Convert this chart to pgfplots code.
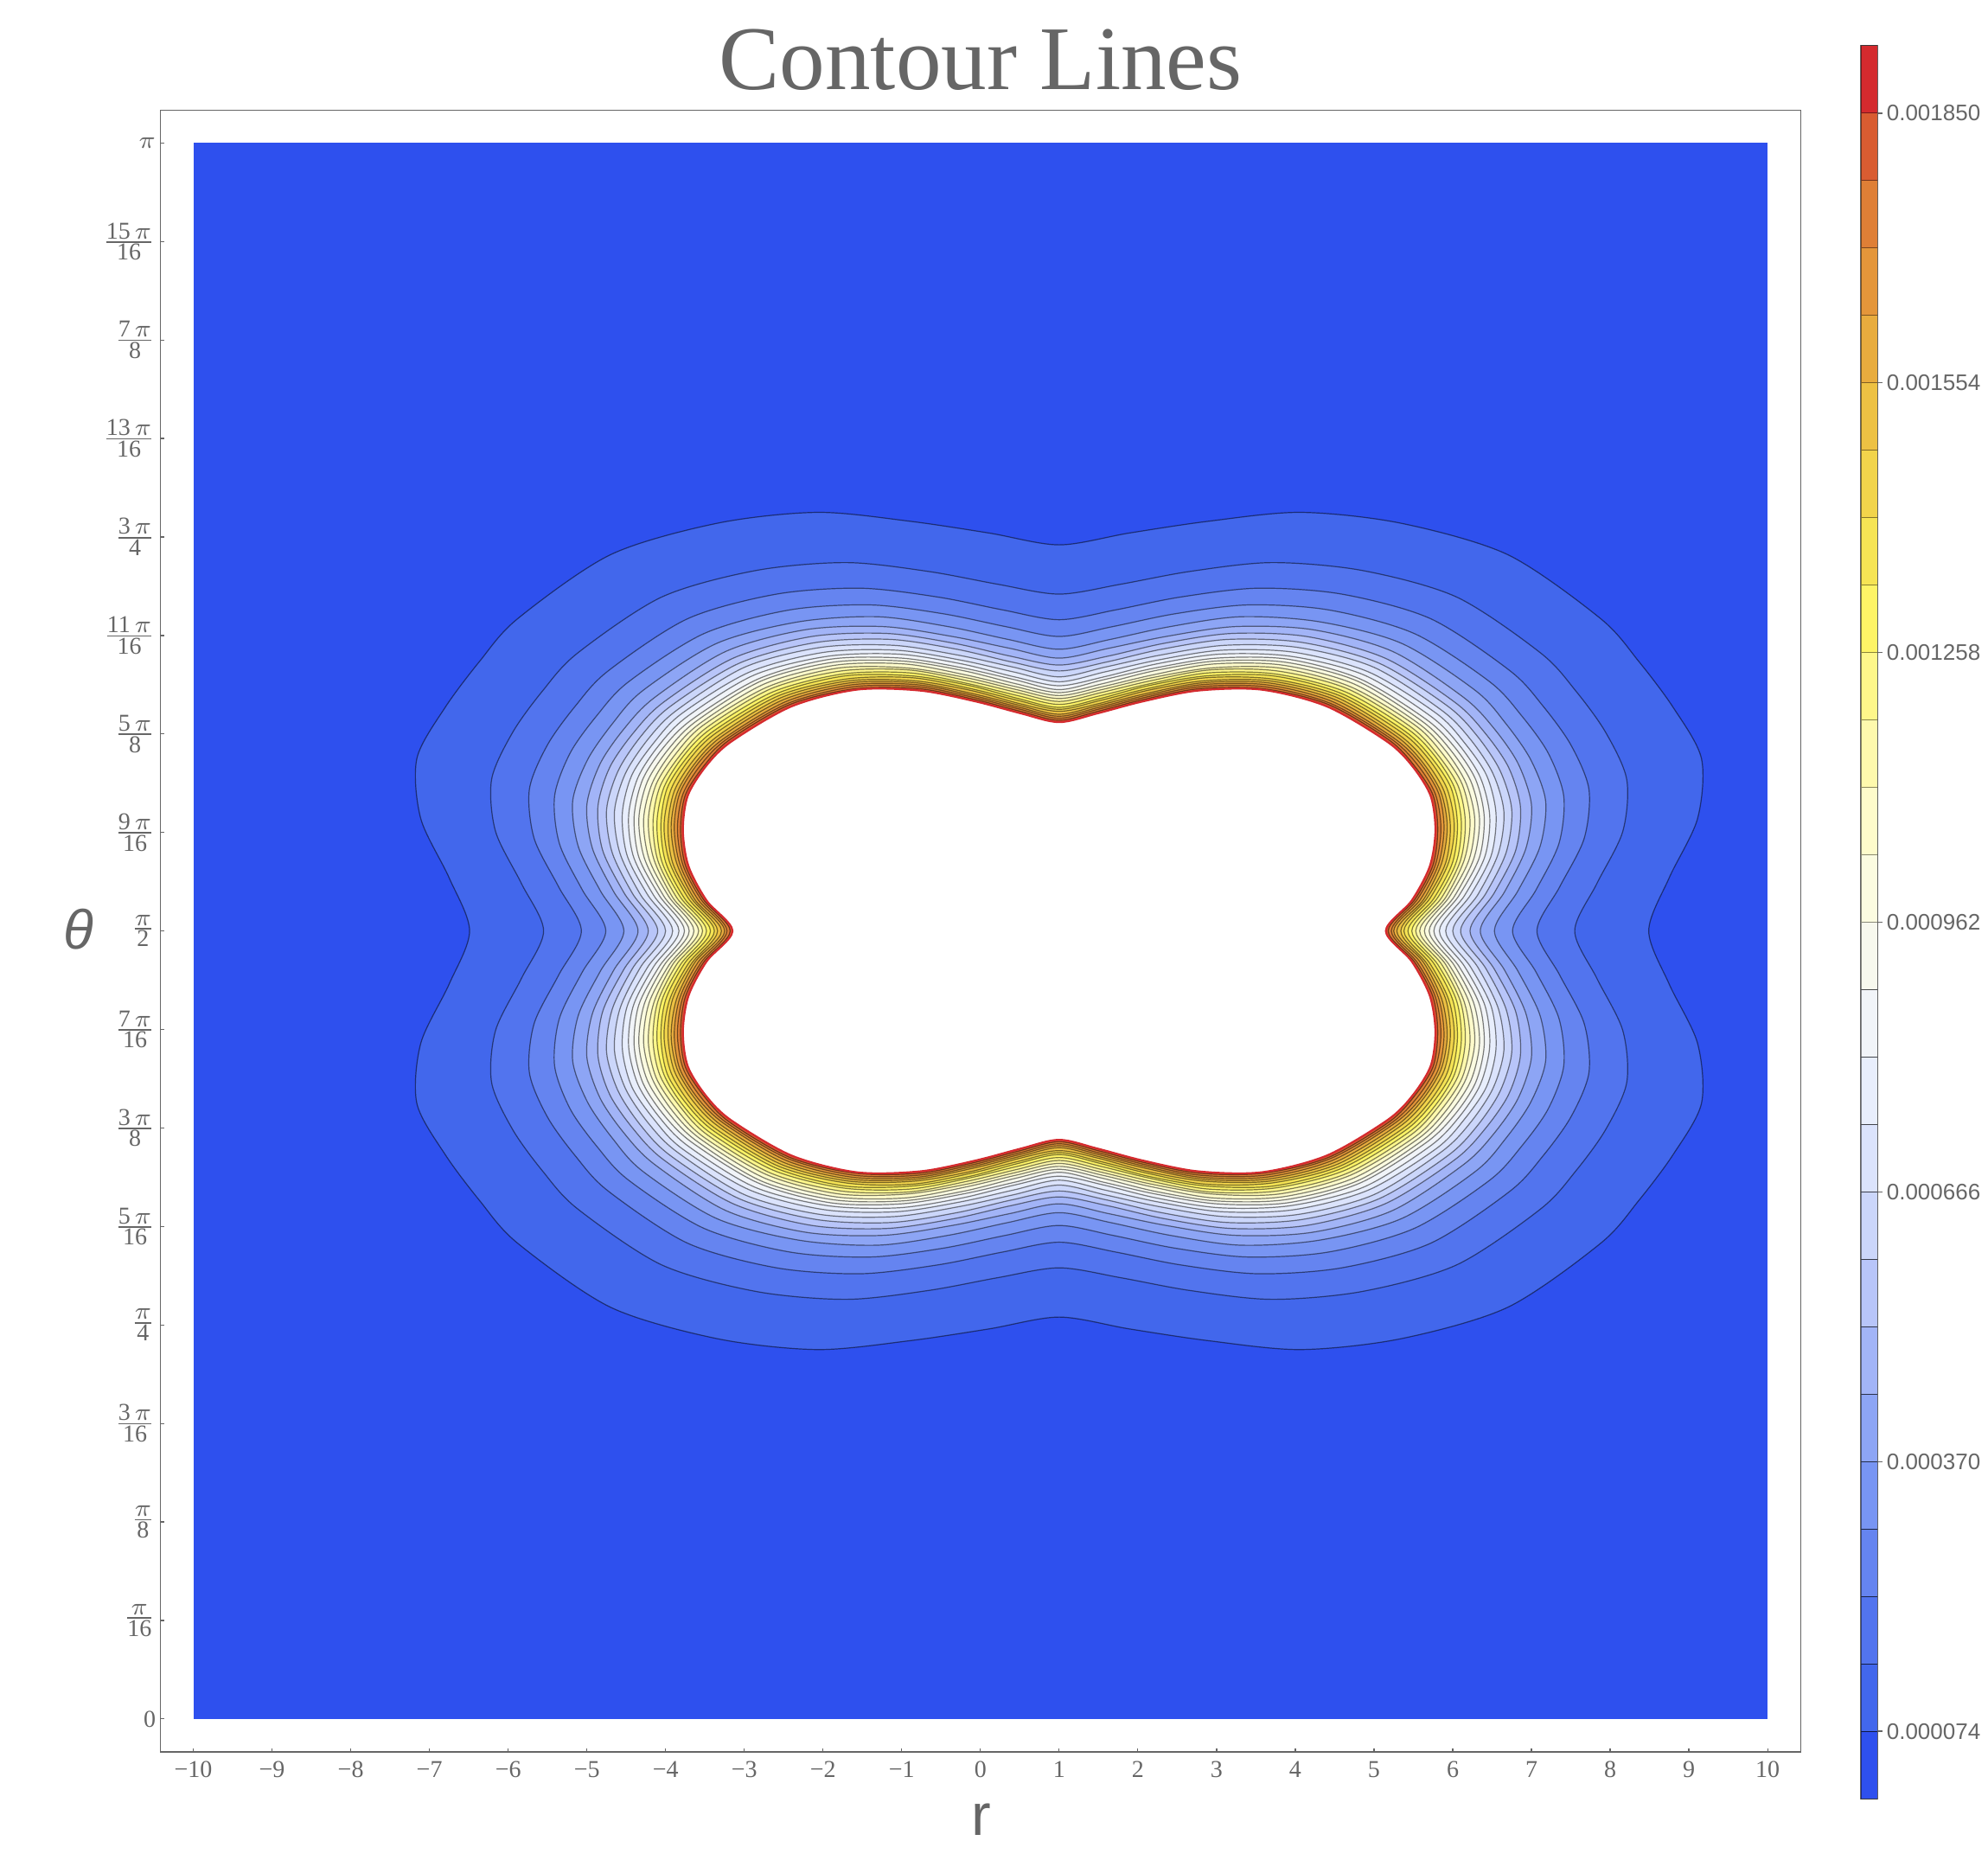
\documentclass[border=0pt]{standalone}
\usepackage{fontspec}
\setmainfont{Liberation Serif}
\newfontfamily\arialf{Liberation Sans}
\usepackage{pgfplots}
\pgfplotsset{compat=1.18}
\definecolor{txt}{RGB}{102,102,102}
\definecolor{b0}{HTML}{2E50EE}
\definecolor{b1}{HTML}{4267EC}
\definecolor{b2}{HTML}{5274EE}
\definecolor{b3}{HTML}{6584F0}
\definecolor{b4}{HTML}{7895F3}
\definecolor{b5}{HTML}{8DA5F5}
\definecolor{b6}{HTML}{A2B4F7}
\definecolor{b7}{HTML}{B8C5F9}
\definecolor{b8}{HTML}{CBD6FA}
\definecolor{b9}{HTML}{DBE3FC}
\definecolor{b10}{HTML}{E8EEFC}
\definecolor{b11}{HTML}{F1F4F8}
\definecolor{b12}{HTML}{F7F8EE}
\definecolor{b13}{HTML}{FBFBE0}
\definecolor{b14}{HTML}{FEFBCB}
\definecolor{b15}{HTML}{FEF9AD}
\definecolor{b16}{HTML}{FEF78A}
\definecolor{b17}{HTML}{FEF466}
\definecolor{b18}{HTML}{F6E454}
\definecolor{b19}{HTML}{F2D44B}
\definecolor{b20}{HTML}{EDC143}
\definecolor{b21}{HTML}{E8AC3E}
\definecolor{b22}{HTML}{E4963A}
\definecolor{b23}{HTML}{DF7F36}
\definecolor{b24}{HTML}{D95C31}
\definecolor{b25}{HTML}{D42A2E}
\newcommand{\ppi}{$\pi$}
\newcommand{\fr}[2]{$\frac{\mbox{#1}}{\mbox{#2}}$}
\pgfplotsset{cl/.style={draw=black, draw opacity=0.5, line width=0.3pt, smooth cycle}}
\begin{document}
\begin{tikzpicture}
\useasboundingbox (0pt,0pt) rectangle (574.75pt,-537.5pt);
\begin{axis}[
 at={(46.33pt,-506.5pt)}, anchor=south west,
 scale only axis, width=474.25pt, height=474.7pt,
 xmin=-11.42, xmax=9.42, ymin=-8.335, ymax=8.335,
 axis line style={draw=txt, line width=0.35pt},
 xtick={-11,-10,...,9},
 xticklabels={−10,−9,−8,−7,−6,−5,−4,−3,−2,−1,0,1,2,3,4,5,6,7,8,9,10},
 ytick={-8,-7,...,8},
 yticklabels={0,\fr{\ppi}{16},\fr{\ppi}{8},\fr{3\,\ppi}{16},\fr{\ppi}{4},\fr{5\,\ppi}{16},\fr{3\,\ppi}{8},\fr{7\,\ppi}{16},\fr{\ppi}{2},\fr{9\,\ppi}{16},\fr{5\,\ppi}{8},\fr{11\,\ppi}{16},\fr{3\,\ppi}{4},\fr{13\,\ppi}{16},\fr{7\,\ppi}{8},\fr{15\,\ppi}{16},\ppi},
 xtick pos=left, ytick pos=left,
 tick align=inside, major tick length=1.1pt,
 tick style={draw=txt, line width=0.3pt},
 ticklabel style={font=\fontsize{7}{8.4}\selectfont, text=txt},
 xticklabel style={anchor=north, inner sep=0pt, yshift=-2.6pt},
 yticklabel style={anchor=east, inner sep=0pt, xshift=-1.1pt},
]
\addplot[draw=none, fill=b0] coordinates {(-11,-8) (9,-8) (9,8) (-11,8)} -- cycle;
% contour 1
\addplot[cl, fill=b1] coordinates {(-7.49,0) (-7.75,-0.54) (-8.11,-1.14) (-8.16,-1.75) (-7.80,-2.27) (-7.36,-2.74) (-6.88,-3.17) (-5.70,-3.82) (-4.34,-4.14) (-3.07,-4.25) (-1.90,-4.16) (-0.89,-4.04) (0,-3.92) (0.89,-4.04) (1.90,-4.16) (3.07,-4.25) (4.34,-4.14) (5.70,-3.82) (6.88,-3.17) (7.36,-2.74) (7.80,-2.27) (8.16,-1.75) (8.11,-1.14) (7.75,-0.54) (7.49,0) (7.75,0.54) (8.11,1.14) (8.16,1.75) (7.80,2.27) (7.36,2.74) (6.88,3.17) (5.70,3.82) (4.34,4.14) (3.07,4.25) (1.90,4.16) (0.89,4.04) (0,3.92) (-0.89,4.04) (-1.90,4.16) (-3.07,4.25) (-4.34,4.14) (-5.70,3.82) (-6.88,3.17) (-7.36,2.74) (-7.80,2.27) (-8.16,1.75) (-8.11,1.14) (-7.75,0.54)};
% contour 2
\addplot[cl, fill=b2] coordinates {(-6.55,0) (-6.83,-0.48) (-7.16,-1.01) (-7.21,-1.54) (-6.94,-2.02) (-6.56,-2.44) (-6.12,-2.82) (-5.05,-3.39) (-3.85,-3.66) (-2.70,-3.74) (-1.66,-3.65) (-0.78,-3.52) (0,-3.42) (0.78,-3.52) (1.66,-3.65) (2.70,-3.74) (3.85,-3.66) (5.05,-3.39) (6.12,-2.82) (6.56,-2.44) (6.94,-2.02) (7.21,-1.54) (7.16,-1.01) (6.83,-0.48) (6.55,0) (6.83,0.48) (7.16,1.01) (7.21,1.54) (6.94,2.02) (6.56,2.44) (6.12,2.82) (5.05,3.39) (3.85,3.66) (2.70,3.74) (1.66,3.65) (0.78,3.52) (0,3.42) (-0.78,3.52) (-1.66,3.65) (-2.70,3.74) (-3.85,3.66) (-5.05,3.39) (-6.12,2.82) (-6.56,2.44) (-6.94,2.02) (-7.21,1.54) (-7.16,1.01) (-6.83,0.48)};
% contour 3
\addplot[cl, fill=b3] coordinates {(-6.07,0) (-6.36,-0.45) (-6.67,-0.94) (-6.73,-1.44) (-6.50,-1.89) (-6.14,-2.29) (-5.73,-2.64) (-4.72,-3.17) (-3.59,-3.42) (-2.52,-3.48) (-1.54,-3.39) (-0.72,-3.26) (0,-3.16) (0.72,-3.26) (1.54,-3.39) (2.52,-3.48) (3.59,-3.42) (4.72,-3.17) (5.73,-2.64) (6.14,-2.29) (6.50,-1.89) (6.73,-1.44) (6.67,-0.94) (6.36,-0.45) (6.07,0) (6.36,0.45) (6.67,0.94) (6.73,1.44) (6.50,1.89) (6.14,2.29) (5.73,2.64) (4.72,3.17) (3.59,3.42) (2.52,3.48) (1.54,3.39) (0.72,3.26) (0,3.16) (-0.72,3.26) (-1.54,3.39) (-2.52,3.48) (-3.59,3.42) (-4.72,3.17) (-5.73,2.64) (-6.14,2.29) (-6.50,1.89) (-6.73,1.44) (-6.67,0.94) (-6.36,0.45)};
% contour 4
\addplot[cl, fill=b4] coordinates {(-5.76,0) (-6.06,-0.42) (-6.35,-0.89) (-6.41,-1.37) (-6.21,-1.81) (-5.87,-2.19) (-5.47,-2.53) (-4.51,-3.02) (-3.42,-3.26) (-2.39,-3.31) (-1.47,-3.22) (-0.68,-3.09) (0,-2.99) (0.68,-3.09) (1.47,-3.22) (2.39,-3.31) (3.42,-3.26) (4.51,-3.02) (5.47,-2.53) (5.87,-2.19) (6.21,-1.81) (6.41,-1.37) (6.35,-0.89) (6.06,-0.42) (5.76,0) (6.06,0.42) (6.35,0.89) (6.41,1.37) (6.21,1.81) (5.87,2.19) (5.47,2.53) (4.51,3.02) (3.42,3.26) (2.39,3.31) (1.47,3.22) (0.68,3.09) (0,2.99) (-0.68,3.09) (-1.47,3.22) (-2.39,3.31) (-3.42,3.26) (-4.51,3.02) (-5.47,2.53) (-5.87,2.19) (-6.21,1.81) (-6.41,1.37) (-6.35,0.89) (-6.06,0.42)};
% contour 5
\addplot[cl, fill=b5] coordinates {(-5.53,0) (-5.83,-0.41) (-6.11,-0.86) (-6.18,-1.32) (-5.99,-1.74) (-5.67,-2.11) (-5.29,-2.44) (-4.35,-2.92) (-3.30,-3.14) (-2.30,-3.19) (-1.41,-3.09) (-0.65,-2.96) (0,-2.86) (0.65,-2.96) (1.41,-3.09) (2.30,-3.19) (3.30,-3.14) (4.35,-2.92) (5.29,-2.44) (5.67,-2.11) (5.99,-1.74) (6.18,-1.32) (6.11,-0.86) (5.83,-0.41) (5.53,0) (5.83,0.41) (6.11,0.86) (6.18,1.32) (5.99,1.74) (5.67,2.11) (5.29,2.44) (4.35,2.92) (3.30,3.14) (2.30,3.19) (1.41,3.09) (0.65,2.96) (0,2.86) (-0.65,2.96) (-1.41,3.09) (-2.30,3.19) (-3.30,3.14) (-4.35,2.92) (-5.29,2.44) (-5.67,2.11) (-5.99,1.74) (-6.18,1.32) (-6.11,0.86) (-5.83,0.41)};
% contour 6
\addplot[cl, fill=b6] coordinates {(-5.35,0) (-5.66,-0.40) (-5.93,-0.84) (-6.00,-1.28) (-5.83,-1.70) (-5.52,-2.06) (-5.14,-2.37) (-4.23,-2.84) (-3.21,-3.06) (-2.23,-3.09) (-1.36,-2.99) (-0.63,-2.87) (0,-2.77) (0.63,-2.87) (1.36,-2.99) (2.23,-3.09) (3.21,-3.06) (4.23,-2.84) (5.14,-2.37) (5.52,-2.06) (5.83,-1.70) (6.00,-1.28) (5.93,-0.84) (5.66,-0.40) (5.35,0) (5.66,0.40) (5.93,0.84) (6.00,1.28) (5.83,1.70) (5.52,2.06) (5.14,2.37) (4.23,2.84) (3.21,3.06) (2.23,3.09) (1.36,2.99) (0.63,2.87) (0,2.77) (-0.63,2.87) (-1.36,2.99) (-2.23,3.09) (-3.21,3.06) (-4.23,2.84) (-5.14,2.37) (-5.52,2.06) (-5.83,1.70) (-6.00,1.28) (-5.93,0.84) (-5.66,0.40)};
% contour 7
\addplot[cl, fill=b7] coordinates {(-5.22,0) (-5.53,-0.39) (-5.80,-0.82) (-5.86,-1.26) (-5.71,-1.66) (-5.41,-2.01) (-5.03,-2.32) (-4.14,-2.77) (-3.14,-2.99) (-2.18,-3.02) (-1.33,-2.92) (-0.62,-2.79) (0,-2.70) (0.62,-2.79) (1.33,-2.92) (2.18,-3.02) (3.14,-2.99) (4.14,-2.77) (5.03,-2.32) (5.41,-2.01) (5.71,-1.66) (5.86,-1.26) (5.80,-0.82) (5.53,-0.39) (5.22,0) (5.53,0.39) (5.80,0.82) (5.86,1.26) (5.71,1.66) (5.41,2.01) (5.03,2.32) (4.14,2.77) (3.14,2.99) (2.18,3.02) (1.33,2.92) (0.62,2.79) (0,2.70) (-0.62,2.79) (-1.33,2.92) (-2.18,3.02) (-3.14,2.99) (-4.14,2.77) (-5.03,2.32) (-5.41,2.01) (-5.71,1.66) (-5.86,1.26) (-5.80,0.82) (-5.53,0.39)};
% contour 8
\addplot[cl, fill=b8] coordinates {(-5.10,0) (-5.42,-0.38) (-5.68,-0.80) (-5.75,-1.23) (-5.60,-1.63) (-5.31,-1.98) (-4.94,-2.28) (-4.06,-2.72) (-3.08,-2.93) (-2.14,-2.96) (-1.30,-2.86) (-0.60,-2.73) (0,-2.64) (0.60,-2.73) (1.30,-2.86) (2.14,-2.96) (3.08,-2.93) (4.06,-2.72) (4.94,-2.28) (5.31,-1.98) (5.60,-1.63) (5.75,-1.23) (5.68,-0.80) (5.42,-0.38) (5.10,0) (5.42,0.38) (5.68,0.80) (5.75,1.23) (5.60,1.63) (5.31,1.98) (4.94,2.28) (4.06,2.72) (3.08,2.93) (2.14,2.96) (1.30,2.86) (0.60,2.73) (0,2.64) (-0.60,2.73) (-1.30,2.86) (-2.14,2.96) (-3.08,2.93) (-4.06,2.72) (-4.94,2.28) (-5.31,1.98) (-5.60,1.63) (-5.75,1.23) (-5.68,0.80) (-5.42,0.38)};
% contour 9
\addplot[cl, fill=b9] coordinates {(-5.00,0) (-5.32,-0.37) (-5.58,-0.79) (-5.65,-1.21) (-5.51,-1.60) (-5.22,-1.95) (-4.86,-2.24) (-3.99,-2.68) (-3.02,-2.88) (-2.10,-2.90) (-1.28,-2.80) (-0.59,-2.68) (0,-2.58) (0.59,-2.68) (1.28,-2.80) (2.10,-2.90) (3.02,-2.88) (3.99,-2.68) (4.86,-2.24) (5.22,-1.95) (5.51,-1.60) (5.65,-1.21) (5.58,-0.79) (5.32,-0.37) (5.00,0) (5.32,0.37) (5.58,0.79) (5.65,1.21) (5.51,1.60) (5.22,1.95) (4.86,2.24) (3.99,2.68) (3.02,2.88) (2.10,2.90) (1.28,2.80) (0.59,2.68) (0,2.58) (-0.59,2.68) (-1.28,2.80) (-2.10,2.90) (-3.02,2.88) (-3.99,2.68) (-4.86,2.24) (-5.22,1.95) (-5.51,1.60) (-5.65,1.21) (-5.58,0.79) (-5.32,0.37)};
% contour 10
\addplot[cl, fill=b10] coordinates {(-4.91,0) (-5.23,-0.37) (-5.49,-0.77) (-5.55,-1.19) (-5.43,-1.58) (-5.14,-1.92) (-4.79,-2.21) (-3.93,-2.63) (-2.98,-2.83) (-2.06,-2.85) (-1.25,-2.75) (-0.58,-2.63) (0,-2.53) (0.58,-2.63) (1.25,-2.75) (2.06,-2.85) (2.98,-2.83) (3.93,-2.63) (4.79,-2.21) (5.14,-1.92) (5.43,-1.58) (5.55,-1.19) (5.49,-0.77) (5.23,-0.37) (4.91,0) (5.23,0.37) (5.49,0.77) (5.55,1.19) (5.43,1.58) (5.14,1.92) (4.79,2.21) (3.93,2.63) (2.98,2.83) (2.06,2.85) (1.25,2.75) (0.58,2.63) (0,2.53) (-0.58,2.63) (-1.25,2.75) (-2.06,2.85) (-2.98,2.83) (-3.93,2.63) (-4.79,2.21) (-5.14,1.92) (-5.43,1.58) (-5.55,1.19) (-5.49,0.77) (-5.23,0.37)};
% contour 11
\addplot[cl, fill=b11] coordinates {(-4.83,0) (-5.15,-0.36) (-5.41,-0.76) (-5.47,-1.17) (-5.35,-1.56) (-5.08,-1.89) (-4.72,-2.18) (-3.87,-2.60) (-2.93,-2.79) (-2.03,-2.81) (-1.23,-2.71) (-0.57,-2.58) (0,-2.49) (0.57,-2.58) (1.23,-2.71) (2.03,-2.81) (2.93,-2.79) (3.87,-2.60) (4.72,-2.18) (5.08,-1.89) (5.35,-1.56) (5.47,-1.17) (5.41,-0.76) (5.15,-0.36) (4.83,0) (5.15,0.36) (5.41,0.76) (5.47,1.17) (5.35,1.56) (5.08,1.89) (4.72,2.18) (3.87,2.60) (2.93,2.79) (2.03,2.81) (1.23,2.71) (0.57,2.58) (0,2.49) (-0.57,2.58) (-1.23,2.71) (-2.03,2.81) (-2.93,2.79) (-3.87,2.60) (-4.72,2.18) (-5.08,1.89) (-5.35,1.56) (-5.47,1.17) (-5.41,0.76) (-5.15,0.36)};
% contour 12
\addplot[cl, fill=b12] coordinates {(-4.76,0) (-5.08,-0.36) (-5.34,-0.75) (-5.40,-1.16) (-5.29,-1.54) (-5.02,-1.87) (-4.66,-2.15) (-3.82,-2.56) (-2.90,-2.76) (-2.00,-2.77) (-1.22,-2.67) (-0.56,-2.55) (0,-2.45) (0.56,-2.55) (1.22,-2.67) (2.00,-2.77) (2.90,-2.76) (3.82,-2.56) (4.66,-2.15) (5.02,-1.87) (5.29,-1.54) (5.40,-1.16) (5.34,-0.75) (5.08,-0.36) (4.76,0) (5.08,0.36) (5.34,0.75) (5.40,1.16) (5.29,1.54) (5.02,1.87) (4.66,2.15) (3.82,2.56) (2.90,2.76) (2.00,2.77) (1.22,2.67) (0.56,2.55) (0,2.45) (-0.56,2.55) (-1.22,2.67) (-2.00,2.77) (-2.90,2.76) (-3.82,2.56) (-4.66,2.15) (-5.02,1.87) (-5.29,1.54) (-5.40,1.16) (-5.34,0.75) (-5.08,0.36)};
% contour 13
\addplot[cl, fill=b13] coordinates {(-4.70,0) (-5.02,-0.35) (-5.27,-0.74) (-5.34,-1.14) (-5.23,-1.52) (-4.96,-1.85) (-4.61,-2.13) (-3.78,-2.54) (-2.86,-2.73) (-1.98,-2.74) (-1.20,-2.64) (-0.55,-2.51) (0,-2.42) (0.55,-2.51) (1.20,-2.64) (1.98,-2.74) (2.86,-2.73) (3.78,-2.54) (4.61,-2.13) (4.96,-1.85) (5.23,-1.52) (5.34,-1.14) (5.27,-0.74) (5.02,-0.35) (4.70,0) (5.02,0.35) (5.27,0.74) (5.34,1.14) (5.23,1.52) (4.96,1.85) (4.61,2.13) (3.78,2.54) (2.86,2.73) (1.98,2.74) (1.20,2.64) (0.55,2.51) (0,2.42) (-0.55,2.51) (-1.20,2.64) (-1.98,2.74) (-2.86,2.73) (-3.78,2.54) (-4.61,2.13) (-4.96,1.85) (-5.23,1.52) (-5.34,1.14) (-5.27,0.74) (-5.02,0.35)};
% contour 14
\addplot[cl, fill=b14] coordinates {(-4.64,0) (-4.96,-0.35) (-5.21,-0.73) (-5.28,-1.13) (-5.17,-1.50) (-4.91,-1.83) (-4.56,-2.11) (-3.74,-2.51) (-2.83,-2.70) (-1.95,-2.71) (-1.19,-2.60) (-0.55,-2.48) (0,-2.39) (0.55,-2.48) (1.19,-2.60) (1.95,-2.71) (2.83,-2.70) (3.74,-2.51) (4.56,-2.11) (4.91,-1.83) (5.17,-1.50) (5.28,-1.13) (5.21,-0.73) (4.96,-0.35) (4.64,0) (4.96,0.35) (5.21,0.73) (5.28,1.13) (5.17,1.50) (4.91,1.83) (4.56,2.11) (3.74,2.51) (2.83,2.70) (1.95,2.71) (1.19,2.60) (0.55,2.48) (0,2.39) (-0.55,2.48) (-1.19,2.60) (-1.95,2.71) (-2.83,2.70) (-3.74,2.51) (-4.56,2.11) (-4.91,1.83) (-5.17,1.50) (-5.28,1.13) (-5.21,0.73) (-4.96,0.35)};
% contour 15
\addplot[cl, fill=b15] coordinates {(-4.58,0) (-4.91,-0.34) (-5.15,-0.73) (-5.22,-1.12) (-5.12,-1.49) (-4.86,-1.81) (-4.52,-2.09) (-3.70,-2.48) (-2.80,-2.67) (-1.93,-2.67) (-1.17,-2.57) (-0.54,-2.45) (0,-2.36) (0.54,-2.45) (1.17,-2.57) (1.93,-2.67) (2.80,-2.67) (3.70,-2.48) (4.52,-2.09) (4.86,-1.81) (5.12,-1.49) (5.22,-1.12) (5.15,-0.73) (4.91,-0.34) (4.58,0) (4.91,0.34) (5.15,0.73) (5.22,1.12) (5.12,1.49) (4.86,1.81) (4.52,2.09) (3.70,2.48) (2.80,2.67) (1.93,2.67) (1.17,2.57) (0.54,2.45) (0,2.36) (-0.54,2.45) (-1.17,2.57) (-1.93,2.67) (-2.80,2.67) (-3.70,2.48) (-4.52,2.09) (-4.86,1.81) (-5.12,1.49) (-5.22,1.12) (-5.15,0.73) (-4.91,0.34)};
% contour 16
\addplot[cl, fill=b16] coordinates {(-4.53,0) (-4.86,-0.34) (-5.10,-0.72) (-5.16,-1.11) (-5.07,-1.47) (-4.81,-1.79) (-4.47,-2.07) (-3.66,-2.46) (-2.77,-2.64) (-1.91,-2.65) (-1.16,-2.54) (-0.53,-2.42) (0,-2.33) (0.53,-2.42) (1.16,-2.54) (1.91,-2.65) (2.77,-2.64) (3.66,-2.46) (4.47,-2.07) (4.81,-1.79) (5.07,-1.47) (5.16,-1.11) (5.10,-0.72) (4.86,-0.34) (4.53,0) (4.86,0.34) (5.10,0.72) (5.16,1.11) (5.07,1.47) (4.81,1.79) (4.47,2.07) (3.66,2.46) (2.77,2.64) (1.91,2.65) (1.16,2.54) (0.53,2.42) (0,2.33) (-0.53,2.42) (-1.16,2.54) (-1.91,2.65) (-2.77,2.64) (-3.66,2.46) (-4.47,2.07) (-4.81,1.79) (-5.07,1.47) (-5.16,1.11) (-5.10,0.72) (-4.86,0.34)};
% contour 17
\addplot[cl, fill=b17] coordinates {(-4.48,0) (-4.81,-0.34) (-5.05,-0.71) (-5.11,-1.10) (-5.02,-1.46) (-4.77,-1.78) (-4.43,-2.05) (-3.63,-2.43) (-2.74,-2.61) (-1.89,-2.62) (-1.15,-2.51) (-0.53,-2.39) (0,-2.30) (0.53,-2.39) (1.15,-2.51) (1.89,-2.62) (2.74,-2.61) (3.63,-2.43) (4.43,-2.05) (4.77,-1.78) (5.02,-1.46) (5.11,-1.10) (5.05,-0.71) (4.81,-0.34) (4.48,0) (4.81,0.34) (5.05,0.71) (5.11,1.10) (5.02,1.46) (4.77,1.78) (4.43,2.05) (3.63,2.43) (2.74,2.61) (1.89,2.62) (1.15,2.51) (0.53,2.39) (0,2.30) (-0.53,2.39) (-1.15,2.51) (-1.89,2.62) (-2.74,2.61) (-3.63,2.43) (-4.43,2.05) (-4.77,1.78) (-5.02,1.46) (-5.11,1.10) (-5.05,0.71) (-4.81,0.34)};
% contour 18
\addplot[cl, fill=b18] coordinates {(-4.43,0) (-4.76,-0.33) (-5.00,-0.70) (-5.06,-1.08) (-4.98,-1.45) (-4.73,-1.76) (-4.39,-2.03) (-3.59,-2.41) (-2.72,-2.59) (-1.87,-2.59) (-1.13,-2.49) (-0.52,-2.36) (0,-2.27) (0.52,-2.36) (1.13,-2.49) (1.87,-2.59) (2.72,-2.59) (3.59,-2.41) (4.39,-2.03) (4.73,-1.76) (4.98,-1.45) (5.06,-1.08) (5.00,-0.70) (4.76,-0.33) (4.43,0) (4.76,0.33) (5.00,0.70) (5.06,1.08) (4.98,1.45) (4.73,1.76) (4.39,2.03) (3.59,2.41) (2.72,2.59) (1.87,2.59) (1.13,2.49) (0.52,2.36) (0,2.27) (-0.52,2.36) (-1.13,2.49) (-1.87,2.59) (-2.72,2.59) (-3.59,2.41) (-4.39,2.03) (-4.73,1.76) (-4.98,1.45) (-5.06,1.08) (-5.00,0.70) (-4.76,0.33)};
% contour 19
\addplot[cl, fill=b19] coordinates {(-4.38,0) (-4.71,-0.33) (-4.95,-0.70) (-5.02,-1.07) (-4.93,-1.44) (-4.69,-1.75) (-4.36,-2.01) (-3.56,-2.39) (-2.69,-2.56) (-1.85,-2.57) (-1.12,-2.46) (-0.52,-2.34) (0,-2.25) (0.52,-2.34) (1.12,-2.46) (1.85,-2.57) (2.69,-2.56) (3.56,-2.39) (4.36,-2.01) (4.69,-1.75) (4.93,-1.44) (5.02,-1.07) (4.95,-0.70) (4.71,-0.33) (4.38,0) (4.71,0.33) (4.95,0.70) (5.02,1.07) (4.93,1.44) (4.69,1.75) (4.36,2.01) (3.56,2.39) (2.69,2.56) (1.85,2.57) (1.12,2.46) (0.52,2.34) (0,2.25) (-0.52,2.34) (-1.12,2.46) (-1.85,2.57) (-2.69,2.56) (-3.56,2.39) (-4.36,2.01) (-4.69,1.75) (-4.93,1.44) (-5.02,1.07) (-4.95,0.70) (-4.71,0.33)};
% contour 20
\addplot[cl, fill=b20] coordinates {(-4.34,0) (-4.67,-0.33) (-4.91,-0.69) (-4.97,-1.06) (-4.89,-1.42) (-4.65,-1.73) (-4.32,-1.99) (-3.53,-2.37) (-2.67,-2.54) (-1.84,-2.54) (-1.11,-2.44) (-0.51,-2.31) (0,-2.23) (0.51,-2.31) (1.11,-2.44) (1.84,-2.54) (2.67,-2.54) (3.53,-2.37) (4.32,-1.99) (4.65,-1.73) (4.89,-1.42) (4.97,-1.06) (4.91,-0.69) (4.67,-0.33) (4.34,0) (4.67,0.33) (4.91,0.69) (4.97,1.06) (4.89,1.42) (4.65,1.73) (4.32,1.99) (3.53,2.37) (2.67,2.54) (1.84,2.54) (1.11,2.44) (0.51,2.31) (0,2.23) (-0.51,2.31) (-1.11,2.44) (-1.84,2.54) (-2.67,2.54) (-3.53,2.37) (-4.32,1.99) (-4.65,1.73) (-4.89,1.42) (-4.97,1.06) (-4.91,0.69) (-4.67,0.33)};
% contour 21
\addplot[cl, fill=b21] coordinates {(-4.29,0) (-4.63,-0.32) (-4.86,-0.69) (-4.93,-1.06) (-4.85,-1.41) (-4.61,-1.72) (-4.28,-1.98) (-3.50,-2.35) (-2.65,-2.52) (-1.82,-2.52) (-1.10,-2.41) (-0.50,-2.29) (0,-2.20) (0.50,-2.29) (1.10,-2.41) (1.82,-2.52) (2.65,-2.52) (3.50,-2.35) (4.28,-1.98) (4.61,-1.72) (4.85,-1.41) (4.93,-1.06) (4.86,-0.69) (4.63,-0.32) (4.29,0) (4.63,0.32) (4.86,0.69) (4.93,1.06) (4.85,1.41) (4.61,1.72) (4.28,1.98) (3.50,2.35) (2.65,2.52) (1.82,2.52) (1.10,2.41) (0.50,2.29) (0,2.20) (-0.50,2.29) (-1.10,2.41) (-1.82,2.52) (-2.65,2.52) (-3.50,2.35) (-4.28,1.98) (-4.61,1.72) (-4.85,1.41) (-4.93,1.06) (-4.86,0.69) (-4.63,0.32)};
% contour 22
\addplot[cl, fill=b22] coordinates {(-4.25,0) (-4.59,-0.32) (-4.82,-0.68) (-4.89,-1.05) (-4.82,-1.40) (-4.58,-1.71) (-4.25,-1.96) (-3.47,-2.33) (-2.63,-2.50) (-1.80,-2.50) (-1.09,-2.39) (-0.50,-2.27) (0,-2.18) (0.50,-2.27) (1.09,-2.39) (1.80,-2.50) (2.63,-2.50) (3.47,-2.33) (4.25,-1.96) (4.58,-1.71) (4.82,-1.40) (4.89,-1.05) (4.82,-0.68) (4.59,-0.32) (4.25,0) (4.59,0.32) (4.82,0.68) (4.89,1.05) (4.82,1.40) (4.58,1.71) (4.25,1.96) (3.47,2.33) (2.63,2.50) (1.80,2.50) (1.09,2.39) (0.50,2.27) (0,2.18) (-0.50,2.27) (-1.09,2.39) (-1.80,2.50) (-2.63,2.50) (-3.47,2.33) (-4.25,1.96) (-4.58,1.71) (-4.82,1.40) (-4.89,1.05) (-4.82,0.68) (-4.59,0.32)};
% contour 23
\addplot[cl, fill=b23] coordinates {(-4.22,0) (-4.55,-0.32) (-4.78,-0.67) (-4.85,-1.04) (-4.78,-1.39) (-4.55,-1.69) (-4.22,-1.95) (-3.45,-2.31) (-2.61,-2.48) (-1.79,-2.48) (-1.08,-2.37) (-0.49,-2.25) (0,-2.16) (0.49,-2.25) (1.08,-2.37) (1.79,-2.48) (2.61,-2.48) (3.45,-2.31) (4.22,-1.95) (4.55,-1.69) (4.78,-1.39) (4.85,-1.04) (4.78,-0.67) (4.55,-0.32) (4.22,0) (4.55,0.32) (4.78,0.67) (4.85,1.04) (4.78,1.39) (4.55,1.69) (4.22,1.95) (3.45,2.31) (2.61,2.48) (1.79,2.48) (1.08,2.37) (0.49,2.25) (0,2.16) (-0.49,2.25) (-1.08,2.37) (-1.79,2.48) (-2.61,2.48) (-3.45,2.31) (-4.22,1.95) (-4.55,1.69) (-4.78,1.39) (-4.85,1.04) (-4.78,0.67) (-4.55,0.32)};
% contour 24
\addplot[cl, fill=b24] coordinates {(-4.18,0) (-4.52,-0.32) (-4.75,-0.67) (-4.81,-1.03) (-4.75,-1.38) (-4.51,-1.68) (-4.19,-1.94) (-3.42,-2.30) (-2.59,-2.46) (-1.78,-2.46) (-1.07,-2.35) (-0.49,-2.23) (0,-2.14) (0.49,-2.23) (1.07,-2.35) (1.78,-2.46) (2.59,-2.46) (3.42,-2.30) (4.19,-1.94) (4.51,-1.68) (4.75,-1.38) (4.81,-1.03) (4.75,-0.67) (4.52,-0.32) (4.18,0) (4.52,0.32) (4.75,0.67) (4.81,1.03) (4.75,1.38) (4.51,1.68) (4.19,1.94) (3.42,2.30) (2.59,2.46) (1.78,2.46) (1.07,2.35) (0.49,2.23) (0,2.14) (-0.49,2.23) (-1.07,2.35) (-1.78,2.46) (-2.59,2.46) (-3.42,2.30) (-4.19,1.94) (-4.51,1.68) (-4.75,1.38) (-4.81,1.03) (-4.75,0.67) (-4.52,0.32)};
% contour 25 (edge of the clipped region)
\addplot[draw=b25, line width=0.55pt, smooth cycle, fill=white] coordinates {(-4.15,0) (-4.48,-0.31) (-4.71,-0.66) (-4.78,-1.02) (-4.72,-1.37) (-4.49,-1.67) (-4.17,-1.92) (-3.40,-2.28) (-2.57,-2.45) (-1.76,-2.44) (-1.06,-2.33) (-0.49,-2.21) (0,-2.12) (0.49,-2.21) (1.06,-2.33) (1.76,-2.44) (2.57,-2.45) (3.40,-2.28) (4.17,-1.92) (4.49,-1.67) (4.72,-1.37) (4.78,-1.02) (4.71,-0.66) (4.48,-0.31) (4.15,0) (4.48,0.31) (4.71,0.66) (4.78,1.02) (4.72,1.37) (4.49,1.67) (4.17,1.92) (3.40,2.28) (2.57,2.45) (1.76,2.44) (1.06,2.33) (0.49,2.21) (0,2.12) (-0.49,2.21) (-1.06,2.33) (-1.76,2.44) (-2.57,2.45) (-3.40,2.28) (-4.17,1.92) (-4.49,1.67) (-4.72,1.37) (-4.78,1.02) (-4.71,0.66) (-4.48,0.31)};
\end{axis}
% colour bar
\begin{axis}[
 at={(538pt,-520pt)}, anchor=south west,
 scale only axis, width=4.75pt, height=506.75pt,
 xmin=0, xmax=1, ymin=0, ymax=26,
 axis line style={draw=txt, line width=0.3pt},
 xtick=\empty,
 ytick={1,5,9,13,17,21,25},
 yticklabels={0.000074,0.000370,0.000666,0.000962,0.001258,0.001554,0.001850},
 ytick pos=right, yticklabel pos=right,
 tick align=outside, major tick length=1.5pt,
 tick style={draw=txt, line width=0.3pt},
 yticklabel style={font=\arialf\fontsize{6.5}{8}\selectfont, text=txt, anchor=west, inner sep=0pt, xshift=1pt},
]
\pgfplotsset{bd/.style={draw=black, draw opacity=0.45, line width=0.25pt}}
\addplot[bd, fill=b0] coordinates {(0,0) (1,0) (1,1) (0,1)} -- cycle;
\addplot[bd, fill=b1] coordinates {(0,1) (1,1) (1,2) (0,2)} -- cycle;
\addplot[bd, fill=b2] coordinates {(0,2) (1,2) (1,3) (0,3)} -- cycle;
\addplot[bd, fill=b3] coordinates {(0,3) (1,3) (1,4) (0,4)} -- cycle;
\addplot[bd, fill=b4] coordinates {(0,4) (1,4) (1,5) (0,5)} -- cycle;
\addplot[bd, fill=b5] coordinates {(0,5) (1,5) (1,6) (0,6)} -- cycle;
\addplot[bd, fill=b6] coordinates {(0,6) (1,6) (1,7) (0,7)} -- cycle;
\addplot[bd, fill=b7] coordinates {(0,7) (1,7) (1,8) (0,8)} -- cycle;
\addplot[bd, fill=b8] coordinates {(0,8) (1,8) (1,9) (0,9)} -- cycle;
\addplot[bd, fill=b9] coordinates {(0,9) (1,9) (1,10) (0,10)} -- cycle;
\addplot[bd, fill=b10] coordinates {(0,10) (1,10) (1,11) (0,11)} -- cycle;
\addplot[bd, fill=b11] coordinates {(0,11) (1,11) (1,12) (0,12)} -- cycle;
\addplot[bd, fill=b12] coordinates {(0,12) (1,12) (1,13) (0,13)} -- cycle;
\addplot[bd, fill=b13] coordinates {(0,13) (1,13) (1,14) (0,14)} -- cycle;
\addplot[bd, fill=b14] coordinates {(0,14) (1,14) (1,15) (0,15)} -- cycle;
\addplot[bd, fill=b15] coordinates {(0,15) (1,15) (1,16) (0,16)} -- cycle;
\addplot[bd, fill=b16] coordinates {(0,16) (1,16) (1,17) (0,17)} -- cycle;
\addplot[bd, fill=b17] coordinates {(0,17) (1,17) (1,18) (0,18)} -- cycle;
\addplot[bd, fill=b18] coordinates {(0,18) (1,18) (1,19) (0,19)} -- cycle;
\addplot[bd, fill=b19] coordinates {(0,19) (1,19) (1,20) (0,20)} -- cycle;
\addplot[bd, fill=b20] coordinates {(0,20) (1,20) (1,21) (0,21)} -- cycle;
\addplot[bd, fill=b21] coordinates {(0,21) (1,21) (1,22) (0,22)} -- cycle;
\addplot[bd, fill=b22] coordinates {(0,22) (1,22) (1,23) (0,23)} -- cycle;
\addplot[bd, fill=b23] coordinates {(0,23) (1,23) (1,24) (0,24)} -- cycle;
\addplot[bd, fill=b24] coordinates {(0,24) (1,24) (1,25) (0,25)} -- cycle;
\addplot[bd, fill=b25] coordinates {(0,25) (1,25) (1,26) (0,26)} -- cycle;
\end{axis}
\node[font=\fontsize{26.3}{30}\selectfont, text=txt, anchor=base] at (283.5pt,-26pt) {Contour Lines};
\node[font=\arialf\itshape\fontsize{16}{18}\selectfont, text=txt] at (22.75pt,-268.75pt) {θ};
\node[font=\arialf\fontsize{17}{19}\selectfont, text=txt] at (283.75pt,-526pt) {r};
\end{tikzpicture}
\end{document}
